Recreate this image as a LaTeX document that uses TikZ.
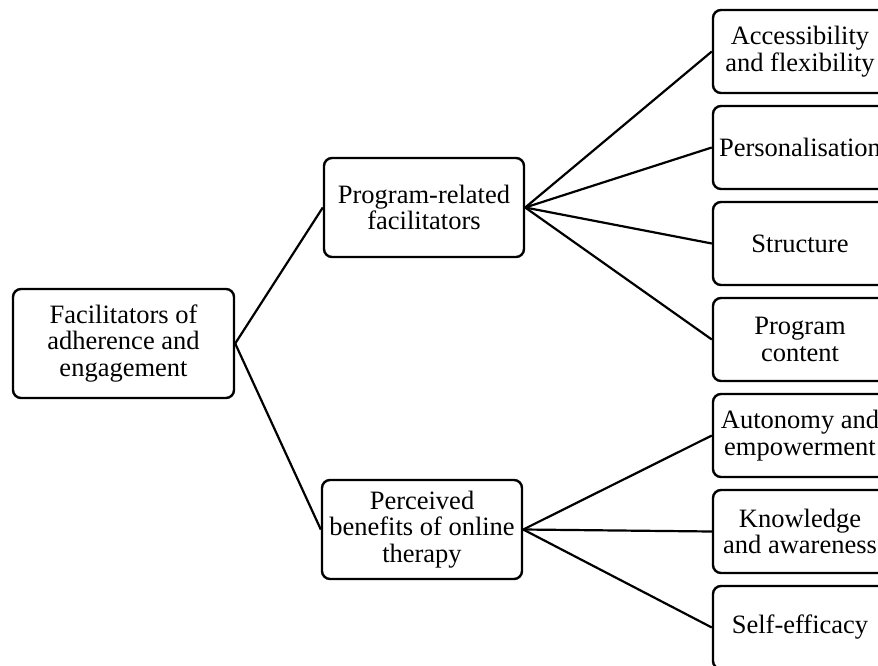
\documentclass[tikz,border=0pt]{standalone}
\usepackage{fontspec}
\setmainfont{Liberation Serif}
\usetikzlibrary{positioning}

\begin{document}
\begin{tikzpicture}[-,x=1pt,y=-1pt,node distance = 10.6pt,line width=2.2pt]
\tikzstyle{v}=[draw,line width=2.4pt,rounded corners=8pt,align=center,inner sep=2pt,font=\fontsize{26.5}{26.5}\selectfont]
\tikzstyle{leaf}=[v,minimum width=174pt,minimum height=83pt]
\useasboundingbox (0,0) rectangle (878,666);
\node[v,minimum width=221pt,minimum height=109pt]	(FAE)	at (123.5,343.5)	{Facilitators of\\adherence and\\engagement};
\node[v,minimum width=200pt,minimum height=99pt]	(PRF)	at (424,207.5)		{Program-related\\facilitators};
\node[v,minimum width=200pt,minimum height=99pt]	(PBT)	at (422,529.5)		{Perceived\\benefits of online\\therapy};
\node[leaf]	(AF)	at (800,51.5)		{Accessibility\\and flexibility};
\node[leaf]	(Pers)	[below = of AF]		{Personalisation};
\node[leaf]	(Str)	[below = of Pers]	{Structure};
\node[leaf]	(PC)	[below = of Str]	{Program\\content};
\node[leaf]	(AE)	[below = of PC]		{Autonomy and\\empowerment};
\node[leaf]	(KA)	[below = of AE]		{Knowledge\\and awareness};
\node[leaf]	(SE)	[below = of KA]		{Self-efficacy};

\path(FAE.east)	edge	(PRF.west)
	 (FAE.east)	edge	(PBT.west)
	 (PRF.east)	edge	(AF.west)
	 (PRF.east)	edge	(Pers.west)
	 (PRF.east)	edge	(Str.west)
	 (PRF.east)	edge	(PC.west)
	 (PBT.east)	edge	(AE.west)
	 (PBT.east)	edge	(KA.west)
	 (PBT.east)	edge	(SE.west);
\end{tikzpicture}
\end{document}
